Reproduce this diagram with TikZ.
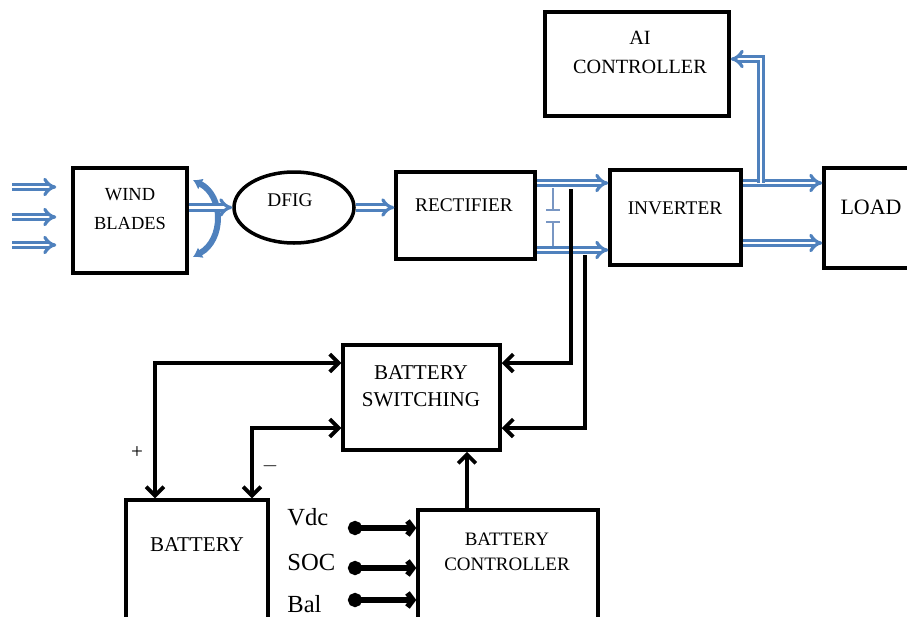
\documentclass[tikz,border=0pt]{standalone}
\usepackage{fontspec}
\setmainfont{Liberation Serif}
\usetikzlibrary{arrows.meta,shapes.geometric}
\definecolor{flowblue}{RGB}{79,129,189}
\definecolor{capblue}{RGB}{120,150,195}
\newcommand{\fs}[2]{\fontsize{#1}{#2}\selectfont}
\begin{document}
\begin{tikzpicture}[x=0.02cm, y=-0.02cm,
    box/.style={draw, line width=2pt, inner sep=0pt},
    lbl/.style={align=center, inner sep=0pt},
    flow/.style={draw=flowblue, double=white, double distance=1.5pt, line width=1.8pt, -{Implies[length=6pt,width=10pt]}},
    sig/.style={line width=2.2pt, -{Straight Barb[length=5pt,width=10pt]}},
    sigboth/.style={line width=2.2pt, {Straight Barb[length=5pt,width=10pt]}-{Straight Barb[length=5pt,width=10pt]}},
    inp/.style={line width=3.2pt, {Circle[length=8pt]}-{Straight Barb[length=3pt,width=8pt]}}]
    \useasboundingbox (0,0) rectangle (907,616);
    \clip (0,0) rectangle (907,616);
    % blocks
    \node[box, minimum width=2.28cm, minimum height=2.10cm] (blades) at (130,220.5) {};
    \node[box, ellipse, minimum width=2.4cm, minimum height=1.42cm] (dfig) at (294,207.5) {};
    \node[box, minimum width=2.78cm, minimum height=1.74cm] (rect) at (465.5,215.5) {};
    \node[box, minimum width=2.62cm, minimum height=1.90cm] (inv) at (675.5,217.5) {};
    \node[box, minimum width=1.80cm, minimum height=2.00cm] (load) at (869,218) {};
    \node[box, minimum width=3.68cm, minimum height=2.08cm] (ai) at (637,64) {};
    \node[box, minimum width=3.14cm, minimum height=2.10cm] (sw) at (421.5,397.5) {};
    \node[box, minimum width=2.84cm, minimum height=2.40cm] (batt) at (197,560) {};
    \node[box, minimum width=3.60cm, minimum height=2.20cm] (bctrl) at (508,565) {};
    % texts
    \node[lbl, font=\fs{10.5}{16}] (blades-t) at (130,209) {WIND\\BLADES};
    \node[lbl, font=\fs{11}{13}] (dfig-t) at (290,200) {DFIG};
    \node[lbl, font=\fs{11}{13}] (rect-t) at (464,205) {RECTIFIER};
    \node[lbl, font=\fs{11}{13}] (inv-t) at (675,208) {INVERTER};
    \node[lbl, font=\fs{12.5}{14}] (load-t) at (871,207) {LOAD};
    \node[lbl, font=\fs{11.5}{16.5}] (ai-t) at (640,52) {AI\\CONTROLLER};
    \node[lbl, font=\fs{12}{15.5}] (sw-t) at (421,386) {BATTERY\\SWITCHING};
    \node[lbl, font=\fs{12}{14}] (batt-t) at (197,545) {BATTERY};
    \node[lbl, font=\fs{10.8}{14}] (bctrl-t) at (507,552) {BATTERY\\CONTROLLER};
    \node[lbl, font=\fs{12}{14}] (plus) at (137,453) {+};
    \node[lbl, font=\fs{12}{14}] (minus) at (270,466) {$-$};
    % wind in
    \foreach \y in {187,217,245} {
        \coordinate (wind\y) at (12,\y);
        \draw[flow, shorten >=0.3cm] (wind\y) -- (blades.west |- 0,\y);
    }
    \draw[flowblue, line width=3.4pt, {Latex[length=5pt,width=7pt]}-{Latex[length=5pt,width=7pt]}]
        (193,180) .. controls (224,196) and (224,240) .. (193,257);
    % power path
    \draw[flow] (blades.east |- dfig.west) -- (dfig.west);
    \draw[flow] (dfig.east) -- (rect.west |- dfig.east);
    \draw[flow] (rect.east |- 0,183) -- (inv.west |- 0,183);
    \draw[flow] (rect.east |- 0,250) -- (inv.west |- 0,250);
    \draw[flow] (inv.east |- 0,183) -- (load.west |- 0,183);
    \draw[flow] (inv.east |- 0,243) -- (load.west |- 0,243);
    \coordinate (aitap) at (761,183);
    \draw[flow] (aitap) |- ([yshift=0.1cm]ai.east);
    % dc link capacitor
    \draw[capblue, line width=0.8pt] (553,188) -- (553,210) (546,210) -- (560,210)
        (546,222) -- (560,222) (553,222) -- (553,246);
    % battery side
    \coordinate (dcp) at (571,189);
    \coordinate (dcn) at (585,255);
    \draw[sig] (dcp) |- (sw.east |- 0,363);
    \draw[sig] (dcn) |- (sw.east |- 0,428);
    \draw[sigboth] (batt.north -| 155,0) |- (sw.west |- 0,363);
    \draw[sigboth] (batt.north -| 252,0) |- (sw.west |- 0,428);
    \draw[sig] (bctrl.north -| 467,0) -- (sw.south -| 467,0);
    % controller inputs
    \foreach \name/\txt/\ly/\cy in {vdc/Vdc/517/528, soc/SOC/562/568, bal/Bal/604/600} {
        \node[lbl, anchor=west, font=\fs{14}{16}] (\name) at (287,\ly) {\txt};
        \coordinate (\name-in) at (348,\cy);
        \draw[inp] (\name-in) -- (bctrl.west |- 0,\cy);
    }
\end{tikzpicture}
\end{document}
